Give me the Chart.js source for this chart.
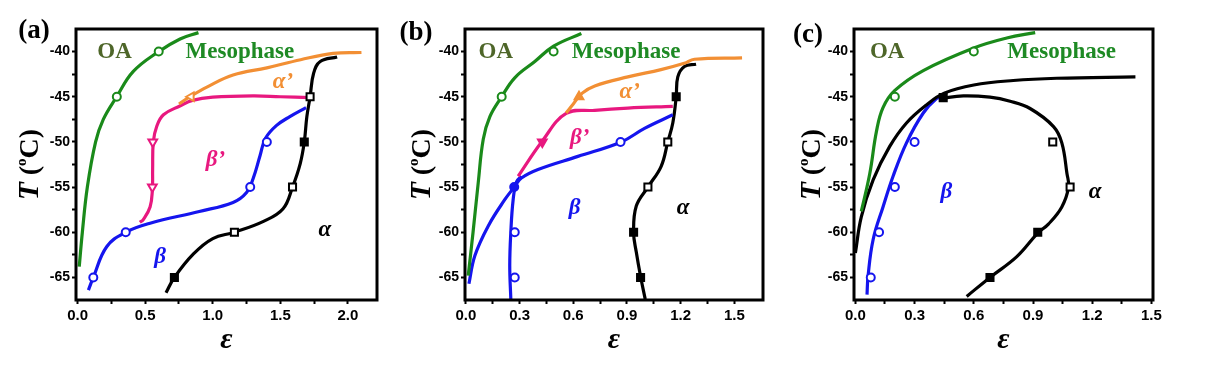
<!DOCTYPE html>
<html lang="en">
<head>
<meta charset="UTF-8">
<title>Phase diagrams (a) (b) (c)</title>
<script src="https://cdn.jsdelivr.net/npm/chart.js"></script>
<style>
  body { margin: 0; background: #fff; }
  #wrap { position: relative; width: 1210px; height: 365px; }
  canvas { position: absolute; top: 0; }
</style>
</head>
<body>
<div id="wrap">
  <canvas id="chartA" width="395" height="365" style="left:0px"></canvas>
  <canvas id="chartB" width="395" height="365" style="left:395px"></canvas>
  <canvas id="chartC" width="420" height="365" style="left:790px"></canvas>
</div>
<script>
// ---- tick labels ----
const tTicks = [-65, -60, -55, -50, -45, -40];
const aXTicks = [0, 0.5, 1.0, 1.5, 2.0];
const bXTicks = [0, 0.3, 0.6, 0.9, 1.2, 1.5];
const cXTicks = [0, 0.3, 0.6, 0.9, 1.2, 1.5];

// ---- panel (a) ----
const aGreenX = [0.012, 0.035, 0.072, 0.133, 0.19, 0.289, 0.412, 0.6, 0.758, 0.894];
const aGreenT = [-63.8, -60, -55, -50, -47.5, -45, -42.2, -40, -38.6, -37.9];
const aGreenMX = [0.29, 0.6];
const aGreenMT = [-45, -40];
const aOrangeX = [0.75, 0.83, 0.96, 1.15, 1.4, 1.65, 1.89, 2.1];
const aOrangeT = [-45.8, -45, -43.9, -42.6, -41.8, -40.9, -40.2, -40.1];
const aOrangeMX = [0.84];
const aOrangeMT = [-45];
const aPinkX = [1.72, 1.5, 1.3, 1.0, 0.85, 0.76, 0.635, 0.585, 0.56, 0.555, 0.553, 0.536, 0.486, 0.46];
const aPinkT = [-45.1, -45, -44.9, -45.05, -45.4, -46, -47, -48.3, -50, -53, -55.3, -57.2, -58.6, -58.9];
const aPinkMX = [0.556, 0.553];
const aPinkMT = [-50, -55];
const aBlueX = [0.08, 0.116, 0.215, 0.356, 0.536, 0.9, 1.15, 1.25, 1.3, 1.35, 1.39, 1.47, 1.57, 1.69];
const aBlueT = [-66.4, -65, -61.6, -60, -59, -57.7, -56.7, -55.6, -54, -51.5, -49.6, -48.2, -47.2, -46.2];
const aBlueMX = [0.116, 0.356, 1.277, 1.4];
const aBlueMT = [-65, -60, -55, -50];
const aBlackX = [0.654, 0.716, 0.857, 1.0, 1.16, 1.375, 1.52, 1.59, 1.647, 1.677, 1.696, 1.72, 1.746, 1.795, 1.92];
const aBlackT = [-66.7, -65, -62.4, -60.7, -60, -58.8, -57.4, -55, -52.4, -50, -47.2, -45, -42.4, -41.1, -40.6];
const aBlackMX = [0.716, 1.16, 1.59, 1.677, 1.72];
const aBlackMT = [-65, -60, -55, -50, -45];

// ---- panel (b) ----
const bGreenX = [0.013, 0.04, 0.069, 0.097, 0.134, 0.2, 0.273, 0.385, 0.49, 0.645];
const bGreenT = [-64.8, -60, -54.5, -49.7, -47.2, -45, -42.9, -41.1, -39.4, -38];
const bGreenMX = [0.2, 0.49];
const bGreenMT = [-45, -40];
const bOrangeX = [0.56, 0.6, 0.65, 0.72, 0.905, 1.09, 1.22, 1.277, 1.543];
const bOrangeT = [-46.8, -45.8, -44.6, -43.8, -42.8, -42, -41.3, -40.85, -40.7];
const bOrangeMX = [0.632];
const bOrangeMT = [-45];
const bPinkX = [1.156, 0.905, 0.72, 0.56, 0.427, 0.292];
const bPinkT = [-46.07, -46.25, -46.5, -46.85, -49.9, -53.8];
const bPinkMX = [0.427];
const bPinkMT = [-50];
const bBlueX = [0.017, 0.05, 0.125, 0.217, 0.27, 0.31, 0.403, 0.626, 0.868, 0.998, 1.156];
const bBlueT = [-65.7, -62.6, -59.3, -56.4, -55, -54, -53.05, -51.6, -50, -48.5, -47];
const bBlue2X = [0.251, 0.245, 0.251, 0.264, 0.283, 0.31];
const bBlue2T = [-67.4, -63.7, -60, -56.4, -54.4, -53.8];
const bBlueMX = [0.27, 0.864, 0.273, 0.273];
const bBlueMT = [-55, -50, -60, -65];
const bBlackX = [1.002, 0.976, 0.952, 0.937, 0.952, 1.017, 1.091, 1.128, 1.156, 1.175, 1.184, 1.221, 1.286];
const bBlackT = [-67.4, -64.9, -62.2, -60, -57.1, -55, -52.7, -50, -47.9, -45, -42.8, -41.65, -41.4];
const bBlackMX = [0.976, 0.937, 1.017, 1.128, 1.175];
const bBlackMT = [-65, -60, -55, -50, -45];

// ---- panel (c) ----
const cGreenX = [0.03, 0.073, 0.107, 0.14, 0.2, 0.344, 0.6, 0.767, 0.911];
const cGreenT = [-57.7, -53.5, -48.8, -46.2, -44.3, -42.1, -39.6, -38.5, -37.9];
const cGreenMX = [0.2, 0.6];
const cGreenMT = [-45, -40];
const cBlackUpX = [0, 0.03, 0.09, 0.174, 0.259, 0.36, 0.45, 0.6, 0.8, 1.02, 1.419];
const cBlackUpT = [-62.3, -58.3, -54.2, -50.5, -47.9, -45.9, -44.6, -43.7, -43.2, -42.95, -42.8];
const cLoopX = [0.43, 0.547, 0.682, 0.784, 0.885, 1.004, 1.046, 1.072, 1.08, 1.046, 0.978, 0.924, 0.818, 0.682, 0.564];
const cLoopT = [-45.2, -44.9, -45.05, -45.5, -46.3, -48.3, -50.1, -53.5, -55, -57.2, -59.1, -60.1, -62.7, -65, -67.1];
const cBlackMX = [0.445, 1.0, 1.088, 0.924, 0.682];
const cBlackMT = [-45.1, -50, -55, -60, -65];
const cBlueX = [0.059, 0.064, 0.09, 0.14, 0.191, 0.259, 0.344, 0.411, 0.44];
const cBlueT = [-66.9, -64.9, -60.8, -57.2, -53.8, -50.1, -46.8, -45.2, -45];
const cBlueMX = [0.078, 0.12, 0.2, 0.3];
const cBlueMT = [-65, -60, -55, -50];

const GREEN = '#1a8a1a', ORANGE = '#f28f34', PINK = '#e8187f', BLUE = '#1515ee', BLACK = '#000';
const OLIVE = '#4e6629', MESO = '#1e8a24';

function pts(xs, ts) { return xs.map((x, i) => ({ x: x, y: ts[i] })); }

function line(xs, ts, color) {
  return { data: pts(xs, ts), showLine: true, borderColor: color, borderWidth: 3.2,
           pointRadius: 0, tension: 0.4, fill: false, order: 2 };
}

function marks(xs, ts, color, style, rot, fills, r) {
  return { data: pts(xs, ts), showLine: false, pointStyle: style, rotation: rot || 0,
           pointRadius: r || 4, pointBorderColor: color, pointBorderWidth: 2,
           pointBackgroundColor: fills || '#fff', order: 0 };
}

function withMinor(major) {
  const out = [];
  major.forEach((v, i) => {
    out.push(v);
    if (i < major.length - 1) out.push((v + major[i + 1]) / 2);
  });
  return out;
}

// frame, in-plot labels, panel letter and axis titles
const decor = {
  id: 'decor',
  afterDraw(chart) {
    const o = chart.options.plugins.decor;
    const ctx = chart.ctx, a = chart.chartArea;
    const xs = chart.scales.x, ys = chart.scales.y;
    ctx.save();
    ctx.lineWidth = 3;
    ctx.strokeStyle = '#000';
    ctx.strokeRect(a.left, a.top, a.right - a.left, a.bottom - a.top);

    ctx.textAlign = 'center';
    ctx.textBaseline = 'middle';
    o.notes.forEach(n => {
      ctx.font = n.font;
      ctx.fillStyle = n.color;
      ctx.fillText(n.text, xs.getPixelForValue(n.x), ys.getPixelForValue(n.y));
    });

    ctx.fillStyle = '#000';
    ctx.font = 'bold 27px "Liberation Serif"';
    ctx.fillText(o.letter, o.letterX, o.letterY);

    ctx.font = 'italic bold 30px "Liberation Serif"';
    ctx.fillText('ε', (a.left + a.right) / 2, 340);

    // y title: T (°C), rotated
    const parts = [
      { t: 'T', f: 'italic bold 29px "Liberation Serif"', dy: 0 },
      { t: ' (', f: 'bold 28px "Liberation Serif"', dy: 0 },
      { t: 'o', f: 'bold 15px "Liberation Serif"', dy: -9 },
      { t: 'C)', f: 'bold 28px "Liberation Serif"', dy: 0 }
    ];
    let total = 0;
    parts.forEach(p => { ctx.font = p.f; p.w = ctx.measureText(p.t).width; total += p.w; });
    ctx.translate(o.titleX, (a.top + a.bottom) / 2);
    ctx.rotate(-Math.PI / 2);
    ctx.textAlign = 'left';
    let cx = -total / 2;
    parts.forEach(p => {
      ctx.font = p.f;
      ctx.fillText(p.t, cx, p.dy);
      cx += p.w;
    });
    ctx.restore();
  }
};

const labelFont = 'bold 23px "Liberation Serif"';
const greekFont = 'italic bold 23px "Liberation Serif"';

function makePanel(p) {
  const xMajor = p.xTicks;
  new Chart(document.getElementById(p.canvas), {
    type: 'scatter',
    data: { datasets: p.datasets },
    options: {
      responsive: false,
      animation: false,
      layout: { padding: { left: 0, right: p.padRight, top: 29, bottom: 0 } },
      scales: {
        x: {
          type: 'linear', min: p.xMin, max: p.xMax,
          afterBuildTicks: s => { s.ticks = withMinor(xMajor).map(v => ({ value: v })); },
          afterFit: s => { s.height = 65; },
          grid: { drawOnChartArea: false, drawTicks: true, tickLength: 4, tickWidth: 2, tickColor: '#000' },
          border: { display: false },
          ticks: {
            autoSkip: false, maxRotation: 0, color: '#000', padding: 3,
            font: { family: '"Liberation Sans"', weight: 'bold', size: 15 },
            callback: v => xMajor.includes(v) ? v.toFixed(1) : ''
          }
        },
        y: {
          type: 'linear', min: -67.5, max: -37.5,
          afterBuildTicks: s => { s.ticks = withMinor(tTicks).map(v => ({ value: v })); },
          afterFit: s => { s.width = p.yWidth; },
          grid: { drawOnChartArea: false, drawTicks: true, tickLength: 4, tickWidth: 2, tickColor: '#000' },
          border: { display: false },
          ticks: {
            autoSkip: false, color: '#000', padding: 2,
            font: { family: '"Liberation Sans"', weight: 'bold', size: 14 },
            callback: v => tTicks.includes(v) ? String(v) : ''
          }
        }
      },
      plugins: {
        legend: { display: false },
        tooltip: { enabled: false },
        decor: { notes: p.notes, letter: p.letter, letterX: p.letterX, letterY: p.letterY, titleX: p.titleX }
      }
    },
    plugins: [decor]
  });
}

makePanel({
  canvas: 'chartA', yWidth: 76, padRight: 18, xMin: -0.012, xMax: 2.215, xTicks: aXTicks,
  letter: '(a)', letterX: 34, letterY: 31, titleX: 31,
  datasets: [
    line(aGreenX, aGreenT, GREEN), marks(aGreenMX, aGreenMT, GREEN, 'circle'),
    line(aOrangeX, aOrangeT, ORANGE), marks(aOrangeMX, aOrangeMT, ORANGE, 'triangle', -90, '#fff', 5),
    line(aPinkX, aPinkT, PINK), marks(aPinkMX, aPinkMT, PINK, 'triangle', 180, '#fff', 5),
    line(aBlueX, aBlueT, BLUE), marks(aBlueMX, aBlueMT, BLUE, 'circle'),
    line(aBlackX, aBlackT, BLACK), marks(aBlackMX, aBlackMT, BLACK, 'rect', 0, [BLACK, '#fff', '#fff', BLACK, '#fff'], 5)
  ],
  notes: [
    { text: 'OA', x: 0.273, y: -40, font: labelFont, color: OLIVE },
    { text: 'Mesophase', x: 1.2, y: -40, font: labelFont, color: MESO },
    { text: 'α’', x: 1.52, y: -43.4, font: greekFont, color: ORANGE },
    { text: 'β’', x: 1.02, y: -52, font: greekFont, color: PINK },
    { text: 'β', x: 0.61, y: -62.7, font: greekFont, color: BLUE },
    { text: 'α', x: 1.83, y: -59.8, font: greekFont, color: BLACK }
  ]
});

makePanel({
  canvas: 'chartB', yWidth: 70, padRight: 27, xMin: -0.005, xMax: 1.66, xTicks: bXTicks,
  letter: '(b)', letterX: 21, letterY: 33, titleX: 28,
  datasets: [
    line(bGreenX, bGreenT, GREEN), marks(bGreenMX, bGreenMT, GREEN, 'circle'),
    line(bOrangeX, bOrangeT, ORANGE), marks(bOrangeMX, bOrangeMT, ORANGE, 'triangle', 0, ORANGE, 5),
    line(bPinkX, bPinkT, PINK), marks(bPinkMX, bPinkMT, PINK, 'triangle', 180, PINK, 5),
    line(bBlueX, bBlueT, BLUE), line(bBlue2X, bBlue2T, BLUE),
    marks(bBlueMX, bBlueMT, BLUE, 'circle', 0, [BLUE, '#fff', '#fff', '#fff']),
    line(bBlackX, bBlackT, BLACK), marks(bBlackMX, bBlackMT, BLACK, 'rect', 0, [BLACK, BLACK, '#fff', '#fff', BLACK], 5)
  ],
  notes: [
    { text: 'OA', x: 0.167, y: -40, font: labelFont, color: OLIVE },
    { text: 'Mesophase', x: 0.895, y: -40, font: labelFont, color: MESO },
    { text: 'α’', x: 0.915, y: -44.5, font: greekFont, color: ORANGE },
    { text: 'β’', x: 0.636, y: -49.6, font: greekFont, color: PINK },
    { text: 'β', x: 0.608, y: -57.3, font: greekFont, color: BLUE },
    { text: 'α', x: 1.213, y: -57.3, font: greekFont, color: BLACK }
  ]
});

makePanel({
  canvas: 'chartC', yWidth: 64, padRight: 57, xMin: -0.007, xMax: 1.508, xTicks: cXTicks,
  letter: '(c)', letterX: 18, letterY: 35, titleX: 23,
  datasets: [
    line(cGreenX, cGreenT, GREEN), marks(cGreenMX, cGreenMT, GREEN, 'circle'),
    line(cBlackUpX, cBlackUpT, BLACK), line(cLoopX, cLoopT, BLACK),
    marks(cBlackMX, cBlackMT, BLACK, 'rect', 0, [BLACK, '#fff', '#fff', BLACK, BLACK], 5),
    line(cBlueX, cBlueT, BLUE), marks(cBlueMX, cBlueMT, BLUE, 'circle')
  ],
  notes: [
    { text: 'OA', x: 0.161, y: -40, font: labelFont, color: OLIVE },
    { text: 'Mesophase', x: 1.045, y: -40, font: labelFont, color: MESO },
    { text: 'β', x: 0.461, y: -55.5, font: greekFont, color: BLUE },
    { text: 'α', x: 1.215, y: -55.5, font: greekFont, color: BLACK }
  ]
});
</script>
</body>
</html>
